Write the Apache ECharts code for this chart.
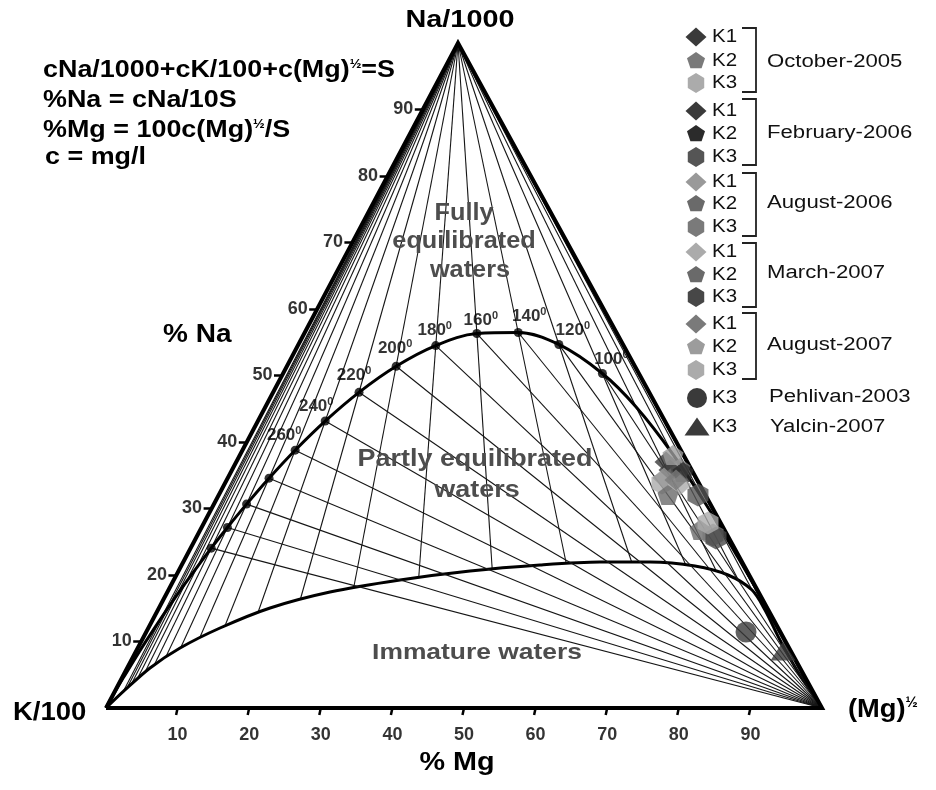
<!DOCTYPE html>
<html>
<head>
<meta charset="utf-8">
<script src="https://cdn.jsdelivr.net/npm/echarts@6.0.0/dist/echarts.min.js"></script>
<style>
html,body{margin:0;padding:0;background:#ffffff;}
#chart{width:936px;height:790px;}
</style>
</head>
<body>
<div id="chart"></div>
<script>
// ======================= DATA (ternary percentages: %Na, %Mg; %K = rest) =======================
// Full-equilibrium curve: dotted temperatures
const eqTemps  = [100, 120, 140, 160, 180, 200, 220, 240, 260, 280, 300, 320, 340];
const eqLabels = ['100','120','140','160','180','200','220','240','260','','','',''];
const eqNa = [50.3, 54.67, 56.47, 56.31, 54.50, 51.39, 47.47, 43.15, 38.77, 34.56, 30.66, 27.15, 24.04];
const eqMg = [44.6, 36.37, 29.81, 24.11, 19.26, 15.26, 12.00,  9.40,  7.36,  5.78,  4.56,  3.61,  2.88];
// continuation of the full-equilibrium curve: low-T side (0..80 °C) and high-T side (400..1000 °C, K corner)
const eqLowNa  = [15.57, 22.73, 30.56, 38.33, 45.30];
const eqLowMg  = [84.36, 77.04, 68.81, 60.22, 51.74];
const eqHighNa = [16.85, 9.98, 4.54, 2.15, 0];
const eqHighMg = [1.54, 0.64, 0.18, 0.05, 0];
// K-Mg isotherms from the Na corner: %Mg where each line would reach the base
const kmgTemps  = [20,40,60,80,100,120,140,160,180,200,220,240,260,280,300,320,340,360,380,400,420,440];
const kmgBaseMg = [99.70,99.10,97.65,94.60,89.7,80.24,68.48,55.20,42.34,31.38,22.84,16.54,12.03,8.83,6.57,4.96,3.80,2.95,2.32,1.85,1.50,1.22];
// Immature-waters boundary
const immNa = [0, 2.71, 6.02, 9.02, 12.03, 15.04, 17.44, 19.25, 20.60, 21.50, 21.95, 21.95, 21.35, 20.00, 17.74, 14.74, 10.23, 5.41, 0];
const immMg = [0, 1.32, 3.19, 5.91, 10.01, 15.52, 22.71, 31.60, 40.71, 50.04, 58.20, 65.19, 71.76, 77.04, 81.50, 84.79, 89.10, 93.99, 100];
// Axis ticks
const naTicks = [10, 20, 30, 40, 50, 60, 70, 80, 90];
const mgTicks = [10, 20, 30, 40, 50, 60, 70, 80, 90];
// Samples: [%Na, %Mg] for springs K1, K2, K3
const springs = ['K1', 'K2', 'K3'];
const oct2005 = [[36.99, 60.03], [36.09, 62.43], [33.83, 61.02]];
const feb2006 = [[35.79, 61.18], [35.49, 63.14], [32.03, 66.93]];
const aug2006 = [[34.59, 60.93], [26.77, 69.80], [26.02, 71.99]];
const mar2007 = [[33.53, 63.69], [32.03, 62.74], [25.56, 72.63]];
const aug2007 = [[34.29, 62.75], [38.05, 60.48], [27.82, 70.40]];
const pehlivan2003 = [[11.43, 83.77]];
const yalcin2007   = [[8.57, 90.34]];
const campaignNames = ['October-2005', 'February-2006', 'August-2006', 'March-2007', 'August-2007'];

// ======================= LAYOUT / STYLE =======================
const W = 936, H = 790;
const KX = 106, MGX = 822, BASEY = 708, NAX = 458, NAY = 43;
const SX = (MGX - KX) / 100, SY = (BASEY - NAY) / 100;
const APEX = (NAX - KX) / SX;
const P = (na, mg) => [mg + APEX * na / 100, na];
const FONT = '"Liberation Sans", Arial, Helvetica, sans-serif';

const SYM = {
  diamond: 'diamond',
  pentagon: 'path://M0,-10L9.51,-3.09L5.88,8.09L-5.88,8.09L-9.51,-3.09Z',
  hexagon: 'path://M0,-10L8.66,-5L8.66,5L0,10L-8.66,5L-8.66,-5Z',
  circle: 'circle',
  triangle: 'triangle'
};
const SYMSIZE = { diamond: [21, 19], pentagon: [19, 18], hexagon: [19, 20], circle: 21, triangle: [25, 19] };
const PLOTSIZE = { diamond: [23, 21], pentagon: [21, 20], hexagon: [21, 23] };
const springSym = ['diamond', 'pentagon', 'hexagon'];
const campaignColors = [
  ['#3a3a3a', '#7a7a7a', '#ababab'],
  ['#3a3a3a', '#2b2b2b', '#555555'],
  ['#999999', '#6a6a6a', '#7a7a7a'],
  ['#ababab', '#6a6a6a', '#474747'],
  ['#7a7a7a', '#9c9c9c', '#ababab']
];
const campaignData = [oct2005, feb2006, aug2006, mar2007, aug2007];
const tempLabelOffsets = [[9,-14],[14,-14],[11,-16],[4,-13],[-1,-15],[-1,-18],[-5,-17],[-9,-15],[-11,-15],[0,0],[0,0],[0,0],[0,0]];

// ======================= SERIES =======================
const series = [];
const thin = { color: '#151515', width: 1.1, opacity: 1 };

// K-Mg isotherms (from the Na corner), masked below the immature line
series.push({
  type: 'lines', coordinateSystem: 'cartesian2d', z: 1, silent: true, animation: false,
  lineStyle: thin,
  data: kmgBaseMg.map(m => ({ coords: [P(100, 0), [m, 0]] }))
});
// immature region mask + boundary line
series.push({
  type: 'line', z: 2, smooth: 0.3, symbol: 'none', silent: true, animation: false,
  data: immNa.map((n, i) => P(n, immMg[i])),
  lineStyle: { color: '#000', width: 3 },
  areaStyle: { color: '#ffffff', opacity: 1, origin: 0 }
});
// Na-K isotherms (to the Mg corner)
series.push({
  type: 'lines', coordinateSystem: 'cartesian2d', z: 3, silent: true, animation: false,
  lineStyle: thin,
  data: eqNa.map((n, i) => ({ coords: [P(n, eqMg[i]), P(0, 100)] }))
});
// triangle frame
series.push({
  type: 'line', z: 5, symbol: 'none', silent: true, animation: false,
  data: [P(0, 0), P(0, 100), P(100, 0), P(0, 0)],
  lineStyle: { color: '#000', width: 4, join: 'miter', miterLimit: 10 }
});
// full-equilibrium curve
const fullCurve = []
  .concat(eqLowNa.map((n, i) => P(n, eqLowMg[i])))
  .concat(eqNa.map((n, i) => P(n, eqMg[i])))
  .concat(eqHighNa.map((n, i) => P(n, eqHighMg[i])));
series.push({
  type: 'line', z: 5, smooth: 0.35, symbol: 'none', silent: true, animation: false,
  data: fullCurve, lineStyle: { color: '#000', width: 3 }
});
// temperature dots + labels
series.push({
  type: 'scatter', z: 6, silent: true, animation: false,
  symbolSize: 9, itemStyle: { color: '#000' },
  data: eqNa.map((n, i) => ({
    value: P(n, eqMg[i]), name: eqLabels[i],
    label: { offset: tempLabelOffsets[i] }
  })),
  label: {
    show: true, position: 'inside',
    formatter: p => p.name ? '{a|' + p.name + '}{s|0}' : '',
    rich: {
      a: { fontSize: 17, fontWeight: 'bold', fontFamily: FONT, color: '#000' },
      s: { fontSize: 11, fontWeight: 'bold', fontFamily: FONT, color: '#000', padding: [0, 0, 9, 0] }
    }
  }
});
// axis tick marks
const tickSegs = [];
naTicks.forEach(v => { const a = P(v, 0); tickSegs.push({ coords: [a, [a[0] - 8 / SX, v]] }); });
mgTicks.forEach(v => { tickSegs.push({ coords: [[v, 0], [v - 1.5 / SX, -7 / SY]] }); });
series.push({
  type: 'lines', coordinateSystem: 'cartesian2d', z: 5, silent: true, animation: false,
  lineStyle: { color: '#000', width: 2.5, opacity: 1 }, data: tickSegs
});
// tick labels
const tickLabelStyle = { fontSize: 18, fontWeight: 'bold', fontFamily: FONT, color: '#000' };
series.push({
  type: 'scatter', z: 6, silent: true, animation: false, symbolSize: 1,
  itemStyle: { color: 'rgba(0,0,0,0)' },
  data: naTicks.map(v => { const a = P(v, 0); return { value: [a[0] - 8 / SX, v], name: String(v) }; }),
  label: Object.assign({ show: true, position: 'left', distance: 1, formatter: p => p.name }, tickLabelStyle)
});
series.push({
  type: 'scatter', z: 6, silent: true, animation: false, symbolSize: 1,
  itemStyle: { color: 'rgba(0,0,0,0)' },
  data: mgTicks.map(v => ({ value: [v, -27.5 / SY], name: String(v) })),
  label: Object.assign({ show: true, position: 'inside', formatter: p => p.name }, tickLabelStyle)
});
// samples
campaignData.forEach((grp, g) => {
  series.push({
    type: 'scatter', z: 7, animation: false, name: campaignNames[g],
    data: grp.map((d, k) => ({
      value: P(d[0], d[1]), name: springs[k],
      symbol: SYM[springSym[k]], symbolSize: PLOTSIZE[springSym[k]],
      itemStyle: { color: campaignColors[g][k] }
    }))
  });
});
series.push({
  type: 'scatter', z: 7, animation: false, name: 'Pehlivan-2003',
  data: pehlivan2003.map(d => ({ value: P(d[0], d[1]), symbol: 'circle', symbolSize: SYMSIZE.circle, itemStyle: { color: '#3a3a3a' } }))
});
series.push({
  type: 'scatter', z: 7, animation: false, name: 'Yalcin-2007',
  data: yalcin2007.map(d => ({ value: P(d[0], d[1]), symbol: 'triangle', symbolSize: SYMSIZE.triangle, itemStyle: { color: '#3a3a3a' } }))
});

// ======================= GRAPHIC TEXT & LEGEND =======================
function txt(x, y, text, size, o) {
  o = o || {};
  const st = {
    text: text, fontSize: size, fontWeight: o.w || 'bold', fontFamily: FONT, fill: o.c || '#000',
    align: o.a || 'left', textAlign: o.a || 'left', verticalAlign: 'middle', textVerticalAlign: 'middle'
  };
  if (o.rich) st.rich = o.rich;
  return { type: 'text', x: x, y: y, scaleX: o.sx || 1, scaleY: 1, z: 100, silent: true, style: st };
}
function supRich(size, small, raise) {
  return {
    a: { fontSize: size, fontWeight: 'bold', fontFamily: FONT, fill: '#000' },
    s: { fontSize: small, fontWeight: 'bold', fontFamily: FONT, fill: '#000', padding: [0, 0, raise, 0] }
  };
}
const gfx = [];
// formula block
gfx.push(txt(43, 71, '{a|cNa/1000+cK/100+c(Mg)}{s|½}{a|=S}', 23, { sx: 1.17, rich: supRich(23, 12, 12) }));
gfx.push(txt(43, 101, '%Na = cNa/10S', 23, { sx: 1.17 }));
gfx.push(txt(43, 131, '{a|%Mg = 100c(Mg)}{s|½}{a|/S}', 23, { sx: 1.17, rich: supRich(23, 12, 12) }));
gfx.push(txt(45, 158, 'c = mg/l', 23, { sx: 1.17 }));
// corner and axis titles
gfx.push(txt(460, 20, 'Na/1000', 24, { a: 'center', sx: 1.2 }));
gfx.push(txt(13, 713, 'K/100', 25, { sx: 1.1 }));
gfx.push(txt(848, 710, '{a|(Mg)}{s|½}', 26, { sx: 1.05, rich: supRich(26, 14, 13) }));
gfx.push(txt(163, 335, '% Na', 25, { sx: 1.12 }));
gfx.push(txt(457, 763, '% Mg', 25, { a: 'center', sx: 1.15 }));
// region labels
const grey = '#4d4d4d';
gfx.push(txt(464, 214, 'Fully', 23, { a: 'center', sx: 1.1, c: grey }));
gfx.push(txt(464, 242, 'equilibrated', 23, { a: 'center', sx: 1.1, c: grey }));
gfx.push(txt(470, 271, 'waters', 23, { a: 'center', sx: 1.1, c: grey }));
gfx.push(txt(475, 460, 'Partly equilibrated', 23, { a: 'center', sx: 1.17, c: grey }));
gfx.push(txt(477, 491, 'waters', 23, { a: 'center', sx: 1.17, c: grey }));
gfx.push(txt(477, 653, 'Immature waters', 22, { a: 'center', sx: 1.2, c: grey }));

// legend
const legendRowsY = [[37, 61, 83], [111, 134, 157], [182, 204, 227], [252, 275, 297], [324, 347, 370]];
const legendGroupY = [62, 133, 203, 273, 345];
const legendBrackets = [[28, 92], [99, 165], [173, 236], [243, 307], [313, 379]];
function shapeGfx(type, cx, cy, color) {
  const sz = SYMSIZE[type];
  if (type === 'circle') return { type: 'circle', shape: { cx: cx, cy: cy, r: 10 }, style: { fill: color }, z: 100, silent: true };
  let pts;
  if (type === 'diamond') pts = [[0, -1], [1, 0], [0, 1], [-1, 0]];
  else if (type === 'pentagon') pts = [[0, -1], [0.951, -0.309], [0.588, 0.809], [-0.588, 0.809], [-0.951, -0.309]];
  else if (type === 'hexagon') pts = [[0, -1], [0.866, -0.5], [0.866, 0.5], [0, 1], [-0.866, 0.5], [-0.866, -0.5]];
  else pts = [[0, -1], [1, 0.9], [-1, 0.9]];
  return { type: 'polygon', shape: { points: pts.map(p => [cx + p[0] * sz[0] / 2, cy + p[1] * sz[1] / 2]) }, style: { fill: color }, z: 100, silent: true };
}
const LX = 696;
campaignNames.forEach((name, g) => {
  springs.forEach((s, k) => {
    gfx.push(shapeGfx(springSym[k], LX, legendRowsY[g][k], campaignColors[g][k]));
    gfx.push(txt(712, legendRowsY[g][k], s, 18, { w: 'normal', sx: 1.14, c: '#111' }));
  });
  const b = legendBrackets[g];
  gfx.push({ type: 'polyline', shape: { points: [[742, b[0]], [756, b[0]], [756, b[1]], [742, b[1]]] },
    style: { stroke: '#222', lineWidth: 1.8, fill: null }, z: 100, silent: true });
  gfx.push(txt(767, legendGroupY[g], name, 18, { w: 'normal', sx: 1.23, c: '#111' }));
});
gfx.push(shapeGfx('circle', LX + 1, 398, '#3a3a3a'));
gfx.push(txt(712, 398, 'K3', 18, { w: 'normal', sx: 1.14, c: '#111' }));
gfx.push(txt(769, 397, 'Pehlivan-2003', 18, { w: 'normal', sx: 1.23, c: '#111' }));
gfx.push(shapeGfx('triangle', LX + 1, 427, '#3a3a3a'));
gfx.push(txt(712, 427, 'K3', 18, { w: 'normal', sx: 1.14, c: '#111' }));
gfx.push(txt(770, 427, 'Yalcin-2007', 18, { w: 'normal', sx: 1.23, c: '#111' }));

// ======================= CHART =======================
const chart = echarts.init(document.getElementById('chart'), null, { renderer: 'canvas' });
chart.setOption({
  backgroundColor: '#ffffff',
  animation: false,
  grid: { left: 0, right: 0, top: 0, bottom: 0 },
  xAxis: { type: 'value', min: -KX / SX, max: (W - KX) / SX, show: false },
  yAxis: { type: 'value', min: -(H - BASEY) / SY, max: BASEY / SY, show: false },
  series: series,
  graphic: { elements: gfx }
});
</script>
</body>
</html>
